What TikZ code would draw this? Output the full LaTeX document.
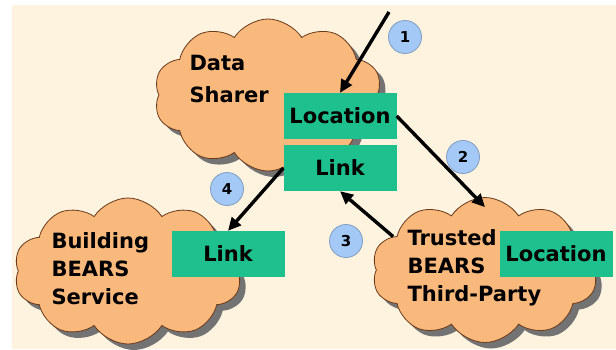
\documentclass[tikz,border=0pt]{standalone}
\usepackage{fontspec}
\setsansfont{DejaVu Sans}
\usetikzlibrary{shapes.symbols,shadows,arrows.meta}
\definecolor{paper}{HTML}{FDF3DF}
\definecolor{puff}{HTML}{F9B87C}
\definecolor{puffline}{HTML}{6B3A1A}
\definecolor{tag}{HTML}{1EC08E}
\definecolor{badge}{HTML}{A4C9F7}
\definecolor{badgeline}{HTML}{7F9CC2}
\begin{document}
\begin{tikzpicture}[
  x=1pt, y=-1pt,
  party/.style={cloud, cloud puffs=10, cloud puff arc=115, cloud ignores aspect, draw=puffline, fill=puff, line width=0.8pt,
    drop shadow={shadow xshift=6pt, shadow yshift=-6pt, fill=black!55, opacity=1}, inner sep=0pt},
  partyname/.style={anchor=west, align=left, font=\sffamily\bfseries\fontsize{21}{28}\selectfont},
  tagbox/.style={rectangle, fill=tag, minimum width=113pt, minimum height=46pt, inner sep=0pt, font=\sffamily\bfseries\fontsize{21}{26}\selectfont},
  stepno/.style={circle, draw=badgeline, fill=badge, line width=0.8pt, minimum size=33pt, inner sep=0pt, font=\sffamily\bfseries\fontsize{15}{17}\selectfont},
  flow/.style={-{Triangle[length=13pt,width=12pt]}, line width=3.4pt}
]
\useasboundingbox (0,0) rectangle (616,349);
\fill[white] (0,0) rectangle (616,349);
\fill[paper] (12,5) rectangle (616,349);

% Parties
\node[party, minimum width=228pt, minimum height=152pt] (sharer) at (268,95) {};
\node[party, minimum width=228pt, minimum height=146pt] (service) at (128,271) {};
\node[party, minimum width=226pt, minimum height=145pt] (trusted) at (485,270) {};

\node[partyname, font=\sffamily\bfseries\fontsize{21}{32}\selectfont] (sharername) at (186,79) {Data\\Sharer};
\node[partyname] (servicename) at (48,269) {Building\\BEARS\\Service};
\node[partyname] (trustedname) at (404,268) {Trusted\\BEARS\\Third-Party};

% Data items
\node[tagbox] (sharerloc) at (340,116) {Location};
\node[tagbox] (sharerlink) at (340,168) {Link};
\node[tagbox] (servicelink) at (228,254) {Link};
\node[tagbox] (trustedloc) at (556,254) {Location};

% Steps
\coordinate (origin) at (389,12);
\draw[flow] (origin) -- (sharerloc.north);
\draw[flow] (sharerloc.east) -- ([yshift=-10pt]trusted.north);
\draw[flow] (trusted.160) -- (sharerlink.south);
\draw[flow] (sharerlink.west) -- (servicelink.north);

\node[stepno] (step1) at (405,37) {1};
\node[stepno] (step2) at (463,157) {2};
\node[stepno] (step3) at (346,241) {3};
\node[stepno] (step4) at (227,189) {4};
\end{tikzpicture}
\end{document}
